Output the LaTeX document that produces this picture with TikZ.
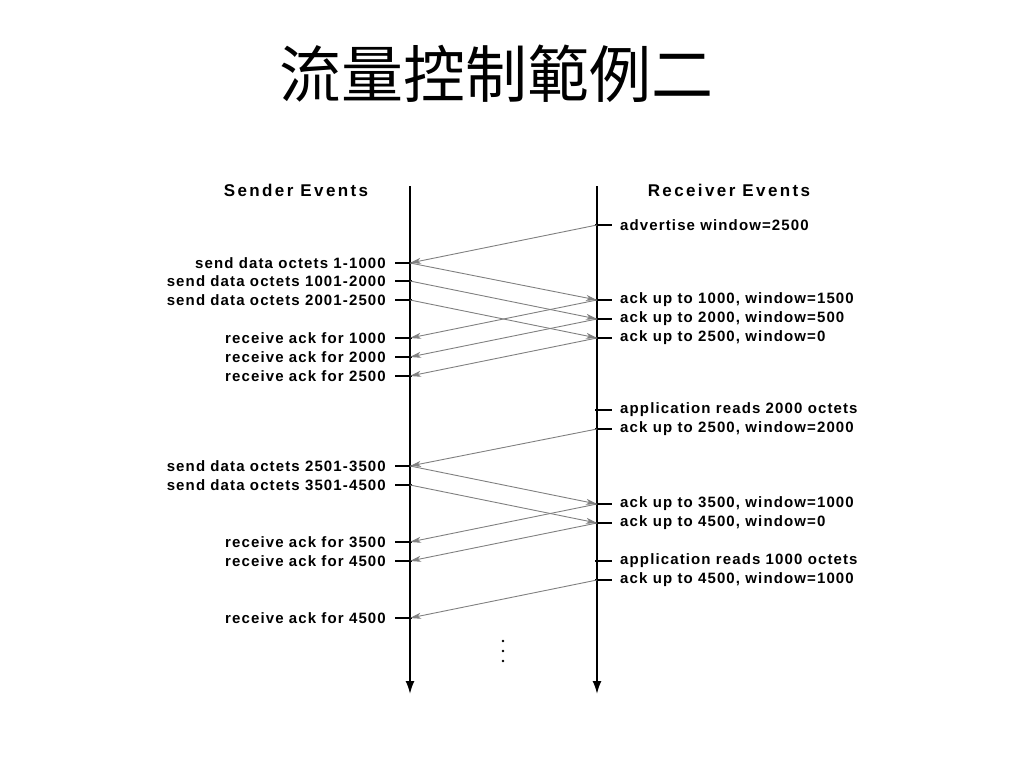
\documentclass[tikz,border=0pt]{standalone}
\usepackage{fontspec}
\setmainfont{Liberation Sans}
\newfontfamily\cjk{Noto Sans CJK TC}
\usetikzlibrary{arrows.meta}

\tikzset{
  evlabel/.style={font=\fontsize{15}{17}\selectfont\bfseries\addfontfeature{LetterSpace=7.5}, inner sep=0pt},
  headlabel/.style={font=\fontsize{17}{19}\selectfont\bfseries\addfontfeature{LetterSpace=14}, inner sep=0pt},
  timeline/.style={line width=1.8pt, -{Latex[length=13pt,width=9pt]}},
  evtick/.style={line width=1.4pt},
  msg/.style={gray, line width=0.9pt, -{Stealth[length=11pt,width=6pt,inset=3pt]}}
}

\begin{document}
\begin{tikzpicture}[x=1pt,y=-1pt]
\useasboundingbox (0,0) rectangle (1024,768);

\node[font=\cjk\fontsize{62}{64}\selectfont] (title) at (496,74) {流量控制範例二};

\node[headlabel] (sendhead) at (296,190) {Sender Events};
\node[headlabel] (recvhead) at (729,190) {Receiver Events};

\draw[timeline] (410,186) -- (410,694);
\draw[timeline] (597,186) -- (597,694);


% sender side
\foreach \n/\y/\t in {s1/263/send data octets 1-1000, s2/281/send data octets 1001-2000, s3/300/send data octets 2001-2500,
    s4/338/receive ack for 1000, s5/357/receive ack for 2000, s6/376/receive ack for 2500,
    s7/466/send data octets 2501-3500, s8/485/send data octets 3501-4500,
    s9/542/receive ack for 3500, s10/561/receive ack for 4500, s11/618/receive ack for 4500}
{
   \draw[evtick] (395,\y) -- (412,\y);
   \coordinate (\n) at (410,\y);
   \node[evlabel, anchor=east] at (386,\y) {\t};
}

% receiver side
\foreach \n/\y/\t in {r1/225/{advertise window=2500}, r2/300/{ack up to 1000, window=1500}, r3/319/{ack up to 2000, window=500},
    r4/338/{ack up to 2500, window=0}, r5/410/{application reads 2000 octets}, r6/429/{ack up to 2500, window=2000},
    r7/504/{ack up to 3500, window=1000}, r8/523/{ack up to 4500, window=0},
    r9/561/{application reads 1000 octets}, r10/580/{ack up to 4500, window=1000}}
{
   \draw[evtick] (595,\y) -- (612,\y);
   \coordinate (\n) at (597,\y);
   \node[evlabel, anchor=west] at (620,\y) {\t};
}


\draw[msg] (r1) -- (s1);
\draw[msg] (s1) -- (r2);
\draw[msg] (s2) -- (r3);
\draw[msg] (s3) -- (r4);
\draw[msg] (r2) -- (s4);
\draw[msg] (r3) -- (s5);
\draw[msg] (r4) -- (s6);

\draw[msg] (r6) -- (s7);
\draw[msg] (s7) -- (r7);
\draw[msg] (s8) -- (r8);
\draw[msg] (r7) -- (s9);
\draw[msg] (r8) -- (s10);
\draw[msg] (r10) -- (s11);

\foreach \y in {641,651,661}
   \fill (503,\y) circle (1.4pt);

\end{tikzpicture}
\end{document}
